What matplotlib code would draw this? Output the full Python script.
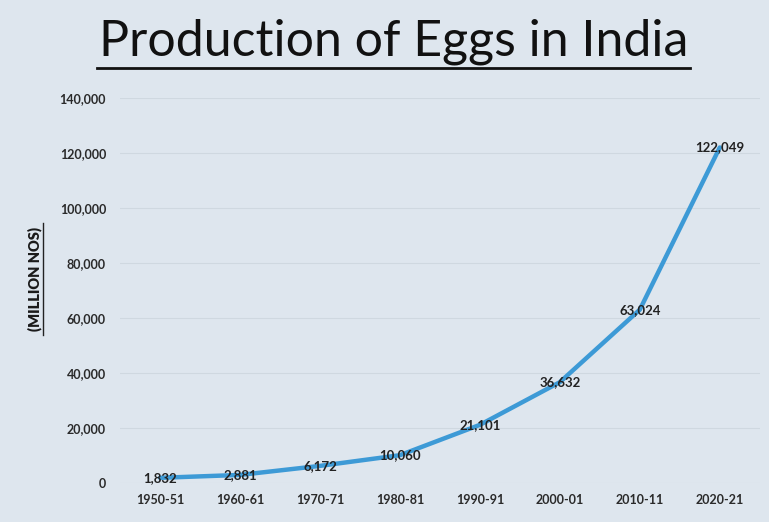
import matplotlib
matplotlib.use("Agg")
import matplotlib.pyplot as plt
from matplotlib.lines import Line2D

years = ["1950-51", "1960-61", "1970-71", "1980-81", "1990-91", "2000-01", "2010-11", "2020-21"]
eggs = [1832, 2881, 6172, 10060, 21101, 36632, 63024, 122049]
yticks = [0, 20000, 40000, 60000, 80000, 100000, 120000, 140000]

bg = "#dee6ee"
fig = plt.figure(figsize=(7.69, 5.22), dpi=100, facecolor=bg)
ax = fig.add_axes([0.156, 0.075, 0.832, 0.737], facecolor=bg)

x = list(range(len(years)))
ax.plot(x, eggs, color="#3d9ad6", lw=3.2, solid_joinstyle="round", solid_capstyle="round", zorder=3)
for xi, v in zip(x, eggs):
    ax.text(xi, v, f"{v:,}", ha="center", va="center", fontsize=9.5, fontfamily="Lato",
            fontweight="bold", color="#222222", zorder=4)

ax.set_xlim(-0.5, len(years) - 0.5)
ax.set_ylim(0, 140000)
ax.set_yticks(yticks)
ax.set_yticklabels([f"{t:,}" for t in yticks])
ax.set_xticks(x)
ax.set_xticklabels(years)
for lab in ax.get_xticklabels() + ax.get_yticklabels():
    lab.set_fontfamily("Lato")
    lab.set_fontweight("bold")
    lab.set_fontsize(9)
    lab.set_color("#2a2a2a")
ax.tick_params(length=0, pad=10)
ax.tick_params(axis="x", pad=8)
ax.grid(axis="y", color="#cfd8e0", lw=0.8)
ax.set_axisbelow(True)
for s in ax.spines.values():
    s.set_visible(False)

ylab = fig.text(35 / 769, 1 - 279 / 522, "(MILLION NOS)", rotation=90, ha="center", va="center",
                fontsize=10.5, fontweight="heavy", fontfamily="Lato", color="#1a1a1a")

title = fig.text(0.5 * (97 + 690) / 769, 1 - 42 / 522, "Production of Eggs in India", ha="center", va="center",
                 fontsize=36, fontfamily="Lato", color="#111111")
fig.add_artist(Line2D([97 / 769, 690 / 769], [1 - 68 / 522, 1 - 68 / 522], color="#111111", lw=2))
fig.add_artist(Line2D([43 / 769, 43 / 769], [1 - 335 / 522, 1 - 223 / 522], color="#222222", lw=1))

fig.savefig("out.png", dpi=100, facecolor=bg)
